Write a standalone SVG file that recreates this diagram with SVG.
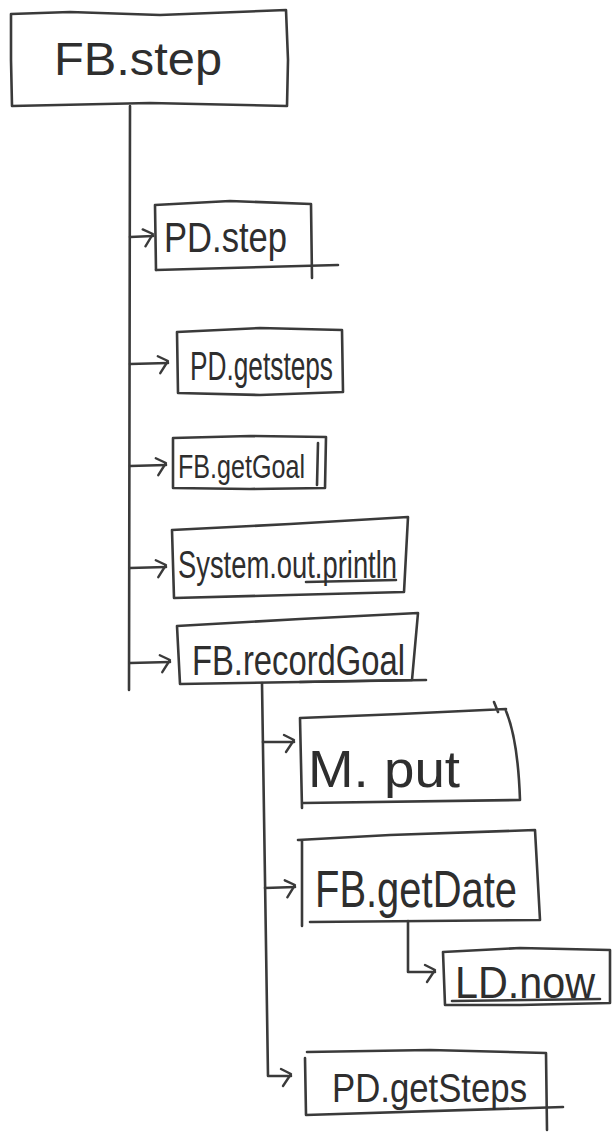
<svg xmlns="http://www.w3.org/2000/svg" width="612" height="1133" viewBox="0 0 612 1133">
<defs>
<style>
.box{fill:none;stroke:#3a3a3a;stroke-width:2.6;stroke-linejoin:round;stroke-linecap:round}
.con{fill:none;stroke:#3a3a3a;stroke-width:2.6;stroke-linecap:round;stroke-linejoin:round}
.lbl{font-family:"Liberation Sans","Open Sans",sans-serif;fill:#2e2e2e}
</style>
<marker id="arr" markerUnits="userSpaceOnUse" markerWidth="24" markerHeight="24" refX="0" refY="0" viewBox="-14 -12 18 24" orient="auto" overflow="visible">
<path d="M-10,-7 L0,-2 L-8,10" fill="none" stroke="#3a3a3a" stroke-width="2.4" stroke-linecap="round" stroke-linejoin="round"/>
</marker>
</defs>
<rect width="612" height="1133" fill="#ffffff"/>

<g id="connectors">
<path class="con" d="M130,106 L129,690"/>
<path class="con" d="M130,237 L153,236" marker-end="url(#arr)"/>
<path class="con" d="M130,364 L168,363" marker-end="url(#arr)"/>
<path class="con" d="M130,466 L166,465" marker-end="url(#arr)"/>
<path class="con" d="M130,568 L166,567" marker-end="url(#arr)"/>
<path class="con" d="M130,663 L170,662" marker-end="url(#arr)"/>
<path class="con" d="M262,683 L268,1076 L291,1076" marker-end="url(#arr)"/>
<path class="con" d="M263,742 L294,742" marker-end="url(#arr)"/>
<path class="con" d="M265,888 L295,887" marker-end="url(#arr)"/>
<path class="con" d="M408,921 L408,972 L435,972" marker-end="url(#arr)"/>
</g>

<g id="node-fb-step">
<path class="box" d="M11,14 L70,12 L160,15 L286,10 L288,60 L287,106 L150,103 L12,106 L11,60 Z"/>
<text class="lbl" x="54" y="75" font-size="46" textLength="168" lengthAdjust="spacingAndGlyphs">FB.step</text>
</g>

<g id="node-pd-step">
<path class="box" d="M156,270 L155,205 L230,201 L311,204 L312,278"/>
<path class="box" d="M156,270 L338,265"/>
<text class="lbl" x="164" y="252" font-size="42" textLength="123" lengthAdjust="spacingAndGlyphs">PD.step</text>
</g>

<g id="node-pd-getsteps">
<path class="box" d="M177,332 L260,328 L342,330 L343,392 L260,395 L178,393 Z"/>
<text class="lbl" x="190" y="380" font-size="40" textLength="143" lengthAdjust="spacingAndGlyphs">PD.getsteps</text>
</g>

<g id="node-fb-getgoal">
<path class="box" d="M173,438 L250,436 L326,437 L325,488 L250,489 L173,488 Z"/>
<path class="box" d="M318,443 L317,485"/>
<text class="lbl" x="178" y="478" font-size="34" textLength="127" lengthAdjust="spacingAndGlyphs">FB.getGoal</text>
</g>

<g id="node-system-out-println">
<path class="box" d="M172,530 L290,524 L408,517 L404,592 L290,595 L174,598 Z"/>
<path class="box" d="M306,582 L396,580" stroke-width="1.8"/>
<text class="lbl" x="178" y="578" font-size="38" textLength="219" lengthAdjust="spacingAndGlyphs">System.out.println</text>
</g>

<g id="node-fb-recordgoal">
<path class="box" d="M177,626 L300,619 L418,613 L412,680 L300,682 L180,684 Z"/>
<path class="box" d="M300,682 L426,680"/>
<text class="lbl" x="192" y="675" font-size="42" textLength="213" lengthAdjust="spacingAndGlyphs">FB.recordGoal</text>
</g>

<g id="node-m-put">
<path class="box" d="M300,718 L400,714 L506,709 M494,702 L498,712 M506,711 Q518,740 520,800 L303,803 M300,718 L302,808"/>
<text class="lbl" x="308" y="787" font-size="52" textLength="152" lengthAdjust="spacingAndGlyphs">M. put</text>
</g>

<g id="node-fb-getdate">
<path class="box" d="M298,840 L390,835 L535,830 L540,920 L310,922 M302,840 L302,926"/>
<text class="lbl" x="315" y="907" font-size="52" textLength="202" lengthAdjust="spacingAndGlyphs">FB.getDate</text>
</g>

<g id="node-ld-now">
<path class="box" d="M443,952 L520,948 L610,950 L610,1003 L520,1005 L445,1005 Z"/>
<path class="box" d="M452,1001 L600,999" stroke-width="1.8"/>
<text class="lbl" x="455" y="998" font-size="44" textLength="140" lengthAdjust="spacingAndGlyphs">LD.now</text>
</g>

<g id="node-pd-getsteps-2">
<path class="box" d="M307,1052 L430,1050 L546,1053 L547,1130"/>
<path class="box" d="M305,1058 L306,1115 L563,1107"/>
<text class="lbl" x="332" y="1102" font-size="40" textLength="195" lengthAdjust="spacingAndGlyphs">PD.getSteps</text>
</g>
</svg>
